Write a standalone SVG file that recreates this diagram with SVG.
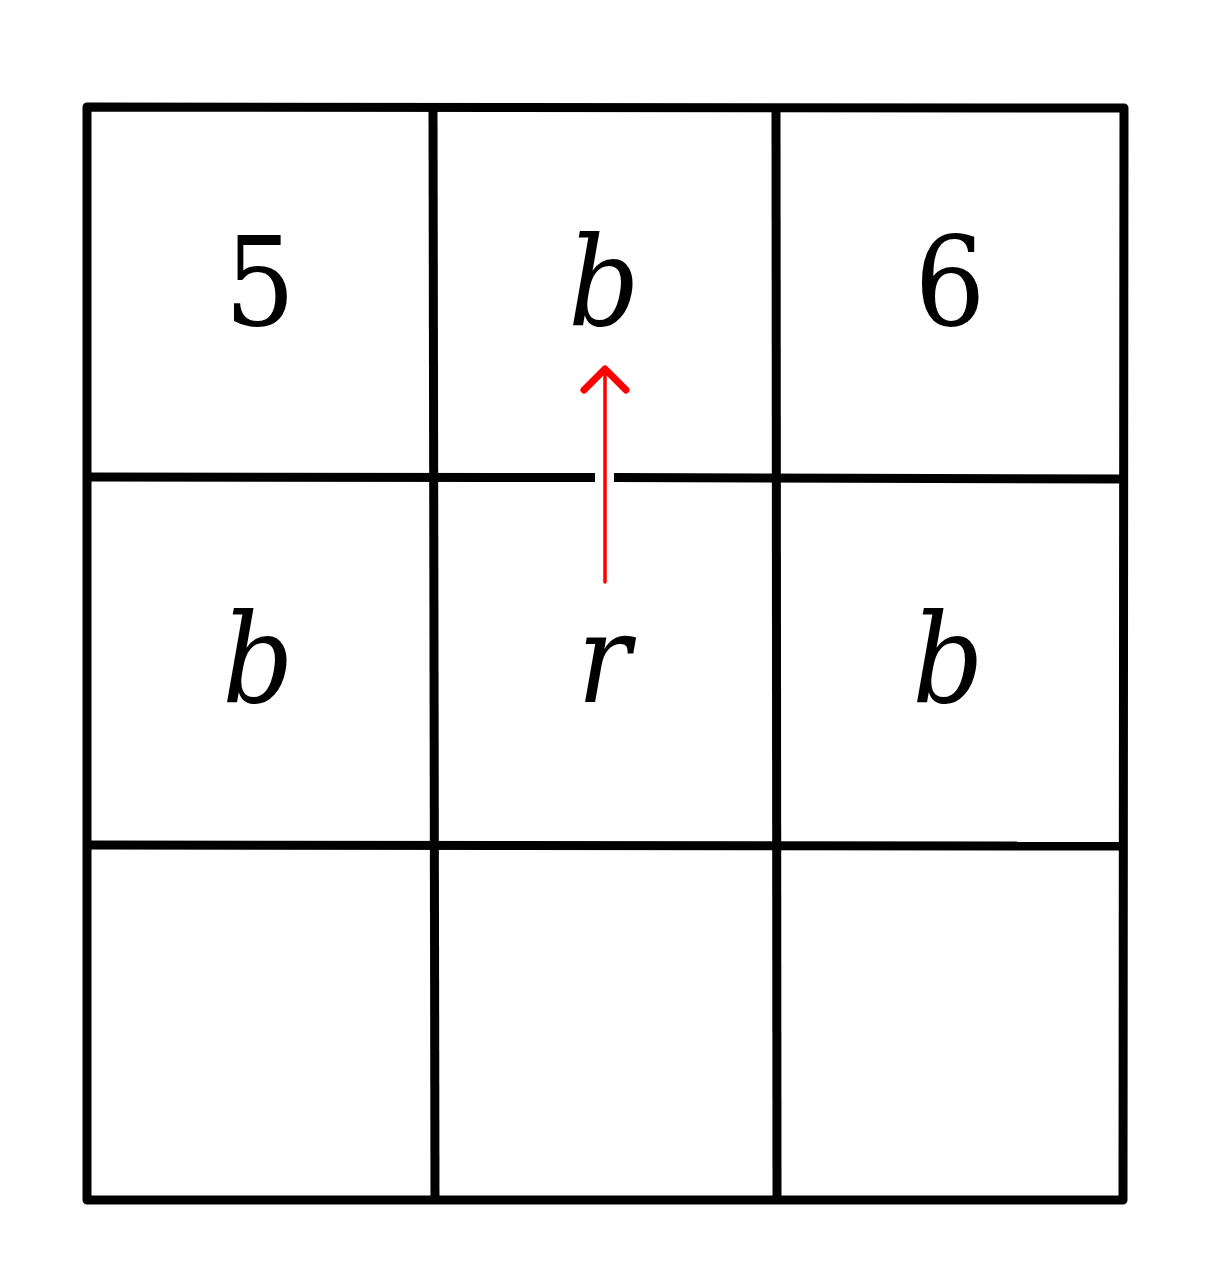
<svg xmlns="http://www.w3.org/2000/svg" width="1221" height="1288" viewBox="0 0 1221 1288">
<style>
.grid{fill:none;stroke:#000;stroke-width:9;stroke-linecap:butt;stroke-linejoin:round}
.lbl{font-family:'DejaVu Serif','Liberation Serif',serif;font-stretch:condensed;font-size:124px;fill:#000;text-anchor:middle}
.it{font-style:italic}
.arr{fill:none;stroke:#ff0000;stroke-linecap:round;stroke-linejoin:round}
</style>
<rect width="1221" height="1288" fill="#fff"/>
<g id="grid">
<path class="grid" d="M87,107 L1124,108 L1123,1200 L87,1200 Z"/>
<path class="grid" d="M433,107 L435,1200"/>
<path class="grid" d="M776,108 L777,1200"/>
<path class="grid" d="M87,477 L595,477.5 M614,477.6 L1124,479"/>
<path class="grid" d="M87,845 L1124,846"/>
</g>
<g id="cell-r0c0"><text class="lbl" x="260" y="325">5</text></g>
<g id="cell-r0c1"><text class="lbl it" x="604" y="325">b</text></g>
<g id="cell-r0c2"><text class="lbl" x="950" y="325">6</text></g>
<g id="cell-r1c0"><text class="lbl it" x="258" y="702">b</text></g>
<g id="cell-r1c1"><text class="lbl it" x="604" y="702">r</text></g>
<g id="cell-r1c2"><text class="lbl it" x="948" y="702">b</text></g>
<g id="connectors">
<path class="arr" stroke-width="3.5" d="M605,582 L605,372"/>
<path class="arr" stroke-width="7" d="M584,390 L605,369 L626,390"/>
</g>
</svg>
